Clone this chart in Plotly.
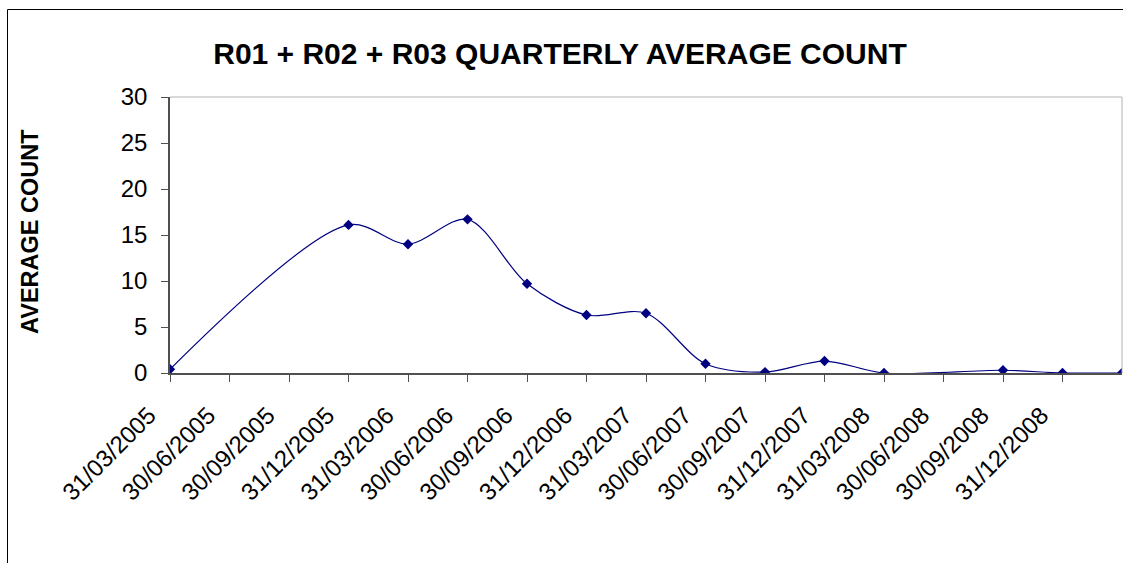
"""
R01 + R02 + R03 quarterly average count, Excel-style smoothed line chart
"""
import plotly.graph_objects as go

# Quarter-end dates (last one has no label on the axis)
quarters = ['31/03/2005', '30/06/2005', '30/09/2005', '31/12/2005',
            '31/03/2006', '30/06/2006', '30/09/2006', '31/12/2006',
            '31/03/2007', '30/06/2007', '30/09/2007', '31/12/2007',
            '31/03/2008', '30/06/2008', '30/09/2008', '31/12/2008',
            '31/03/2009']
# None = no reading for that quarter (line is joined across the gap)
avg_count = [0.4, None, None, 16.1, 14.0, 16.7, 9.7, 6.3,
             6.5, 1.0, 0.1, 1.3, 0.0, None, 0.3, 0.0, 0.0]
tick_labels = quarters[:16]
y_ticks = [0, 5, 10, 15, 20, 25, 30]

FONT = 'Liberation Sans, Arial, sans-serif'
NAVY = '#000080'

# figure fills the whole page (body margin removed below); positions in pixels
W, H = 1123, 563
L, R, T, B = 170, 1, 97, 563 - 373
pw, ph = W - L - R, H - T - B

fig = go.Figure()
fig.add_trace(go.Scatter(x=quarters, y=avg_count, mode='lines+markers', connectgaps=True,
                         line={'color': NAVY, 'width': 1.2, 'shape': 'spline', 'smoothing': 0.9},
                         marker={'symbol': 'diamond', 'size': 8, 'color': NAVY},
                         showlegend=False, hoverinfo='x+y'))


def px_x(x):
    # pixel -> paper x
    return (x - L) / pw


def px_y(y):
    # pixel -> paper y
    return (H - B - y) / ph


def paper_line(x0, y0, x1, y1, color, width=1):
    return {'type': 'line', 'xref': 'paper', 'yref': 'paper',
            'x0': x0, 'y0': y0, 'x1': x1, 'y1': y1,
            'line': {'color': color, 'width': width}}


fig.update_layout(
    width=W, height=H,
    margin={'l': L, 'r': R, 't': T, 'b': B, 'autoexpand': False},
    paper_bgcolor='white', plot_bgcolor='white',
    font={'family': FONT, 'size': 24, 'color': 'black'},
    title={'text': '<b>R01 + R02 + R03 QUARTERLY AVERAGE COUNT</b>', 'font': {'size': 30},
           'x': 560 / W, 'xanchor': 'center', 'xref': 'container',
           'y': 1 - 53 / H, 'yanchor': 'middle', 'yref': 'container'},
    xaxis={'type': 'category', 'range': [0, 16], 'tickmode': 'array',
           'tickvals': tick_labels, 'ticktext': tick_labels, 'tickangle': -45,
           'ticklabelshift': -21, 'ticklabelstandoff': 10,
           'ticks': 'outside', 'ticklen': 7, 'tickcolor': '#505050', 'tickwidth': 1,
           'showline': True, 'linecolor': '#505050', 'linewidth': 1.5,
           'showgrid': False, 'zeroline': False, 'fixedrange': True},
    yaxis={'range': [0, 30], 'tickvals': y_ticks, 'ticklabelstandoff': 9,
           'ticks': 'outside', 'ticklen': 7, 'tickcolor': '#505050', 'tickwidth': 1,
           'showline': True, 'linecolor': '#505050', 'linewidth': 1.5,
           'showgrid': False, 'zeroline': False, 'fixedrange': True},
    annotations=[{'text': '<b>AVERAGE COUNT</b>', 'textangle': -90, 'showarrow': False,
                  'xref': 'paper', 'yref': 'paper', 'x': px_x(30), 'y': px_y(232),
                  'xanchor': 'center', 'yanchor': 'middle', 'font': {'size': 23.5}}],
    shapes=[
        # light grey top / right edges of the plot area
        paper_line(0, 1, 1, 1, '#b4b4b4'),
        paper_line(1, 0, 1, 1, '#b4b4b4'),
        # outer chart border (top and left; the rest is cut off), kept inside the figure
        paper_line(px_x(7.5), px_y(9.5), px_x(W), px_y(9.5), 'black'),
        paper_line(px_x(7.5), px_y(9.5), px_x(7.5), px_y(H), 'black'),
    ],
)

# drop the default 8px body margin so the figure sits at the page origin
fig.write_html('out.html', config={'displayModeBar': False},
               post_script="document.body.style.margin='0';")
